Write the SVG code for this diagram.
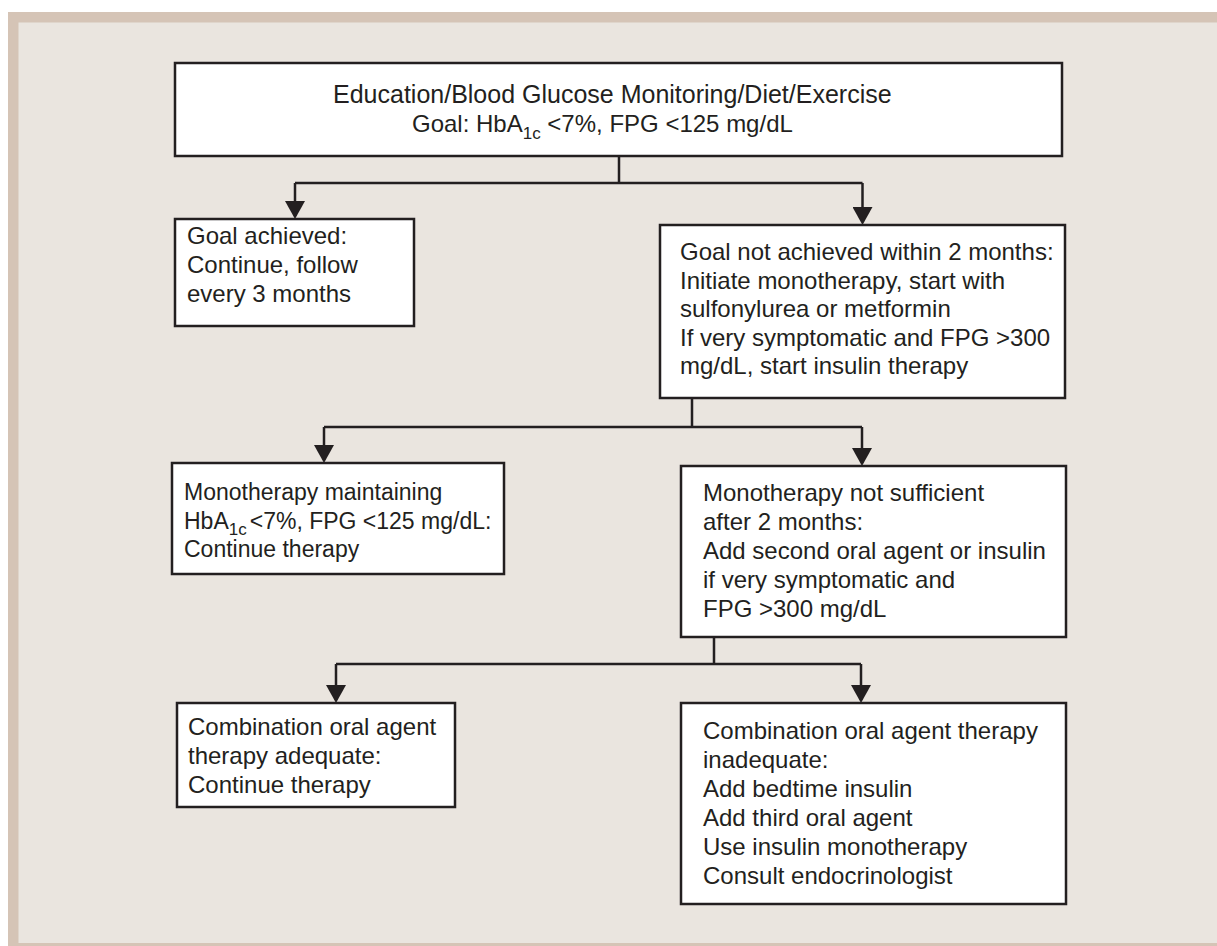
<svg xmlns="http://www.w3.org/2000/svg" width="1217" height="946" viewBox="0 0 1217 946">
<style>
.box{fill:#ffffff;stroke:#231f20;stroke-width:2.5}
.t{font-family:"Liberation Sans",Arial,Helvetica,sans-serif;font-size:24px;fill:#231f20}
.sm{font-size:23px}
.sub{font-size:17px}
.con{fill:none;stroke:#231f20;stroke-width:2.5}
</style>
<defs>
<marker id="arr" markerUnits="userSpaceOnUse" markerWidth="20" markerHeight="20" refX="15" refY="10" orient="auto" viewBox="0 0 18 20">
<path d="M0,0 L18,10 L0,20 z" fill="#231f20"/>
</marker>
</defs>
<rect x="0" y="0" width="1217" height="946" fill="#ffffff"/>
<rect x="8" y="12" width="1209" height="934" fill="#d5c4b6"/>
<rect x="18.5" y="22.5" width="1198.5" height="920.5" fill="#eae5df"/>

<g id="connectors">
<path class="con" d="M619,156 V183 M295,183 H862.5"/>
<path class="con" d="M295,183 V216" marker-end="url(#arr)"/>
<path class="con" d="M862.5,183 V222" marker-end="url(#arr)"/>
<path class="con" d="M692,398 V427 M324,427 H862"/>
<path class="con" d="M324,427 V460" marker-end="url(#arr)"/>
<path class="con" d="M862,427 V463" marker-end="url(#arr)"/>
<path class="con" d="M714,637 V664 M336,664 H861"/>
<path class="con" d="M336,664 V700" marker-end="url(#arr)"/>
<path class="con" d="M861,664 V700" marker-end="url(#arr)"/>
</g>

<g id="n-top">
<rect class="box" x="175" y="63" width="887" height="93"/>
<text class="t" x="333" y="103" style="font-size:25px">Education/Blood Glucose Monitoring/Diet/Exercise</text>
<text class="t" x="412" y="132">Goal: HbA<tspan class="sub" dy="7">1c</tspan><tspan dy="-7"> &lt;7%, FPG &lt;125 mg/dL</tspan></text>
</g>

<g id="n-goal-achieved">
<rect class="box" x="175" y="219" width="239" height="107"/>
<text class="t" x="187" y="244">Goal achieved:</text>
<text class="t" x="187" y="273">Continue, follow</text>
<text class="t" x="187" y="302">every 3 months</text>
</g>

<g id="n-goal-not-achieved">
<rect class="box" x="660" y="225" width="405" height="173"/>
<text class="t" x="680" y="260">Goal not achieved within 2 months:</text>
<text class="t" x="680" y="288.5">Initiate monotherapy, start with</text>
<text class="t" x="680" y="317">sulfonylurea or metformin</text>
<text class="t" x="680" y="345.5">If very symptomatic and FPG &gt;300</text>
<text class="t" x="680" y="374">mg/dL, start insulin therapy</text>
</g>

<g id="n-mono-maintaining">
<rect class="box" x="172" y="463" width="332" height="111"/>
<text class="t sm" x="184" y="500">Monotherapy maintaining</text>
<text class="t sm" x="184" y="528.5">HbA<tspan class="sub" dy="6">1c</tspan><tspan dx="3" dy="-6">&lt;7%, FPG &lt;125 mg/dL:</tspan></text>
<text class="t sm" x="184" y="557">Continue therapy</text>
</g>

<g id="n-mono-not-sufficient">
<rect class="box" x="681" y="466" width="385" height="171"/>
<text class="t" x="703" y="501">Monotherapy not sufficient</text>
<text class="t" x="703" y="530">after 2 months:</text>
<text class="t" x="703" y="558.5">Add second oral agent or insulin</text>
<text class="t" x="703" y="587.5">if very symptomatic and</text>
<text class="t" x="703" y="616.5">FPG &gt;300 mg/dL</text>
</g>

<g id="n-combo-adequate">
<rect class="box" x="177" y="703" width="278" height="104"/>
<text class="t" x="188" y="735">Combination oral agent</text>
<text class="t" x="188" y="764">therapy adequate:</text>
<text class="t" x="188" y="793">Continue therapy</text>
</g>

<g id="n-combo-inadequate">
<rect class="box" x="681" y="703" width="385" height="201"/>
<text class="t" x="703" y="739">Combination oral agent therapy</text>
<text class="t" x="703" y="768">inadequate:</text>
<text class="t" x="703" y="797">Add bedtime insulin</text>
<text class="t" x="703" y="826">Add third oral agent</text>
<text class="t" x="703" y="855">Use insulin monotherapy</text>
<text class="t" x="703" y="884">Consult endocrinologist</text>
</g>
</svg>
